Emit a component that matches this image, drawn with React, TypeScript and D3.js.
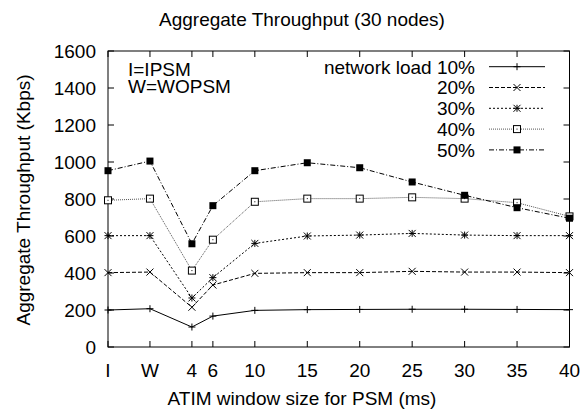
import React from 'react';
import * as d3 from 'd3';

// x positions: I and W are placed before the numeric window sizes
const xValues = [-4, 0, 4, 6, 10, 15, 20, 25, 30, 35, 40];
const xLabels = ['I', 'W', '4', '6', '10', '15', '20', '25', '30', '35', '40'];
const yTicks = [0, 200, 400, 600, 800, 1000, 1200, 1400, 1600];

const load10 = [200, 207, 108, 167, 198, 202, 203, 204, 204, 203, 202];
const load20 = [402, 405, 215, 335, 398, 402, 402, 409, 405, 405, 402];
const load30 = [602, 602, 265, 375, 560, 600, 605, 614, 605, 602, 602];
const load40 = [793, 802, 413, 580, 785, 802, 802, 809, 802, 780, 706];
const load50 = [953, 1005, 558, 764, 953, 996, 969, 892, 820, 753, 696];

const seriesNames = ['network load 10%', '20%', '30%', '40%', '50%'];

const W = 585;
const H = 415;
const font = '"Liberation Sans", Arial, sans-serif';
const fs = 19;

const series = [
  { name: seriesNames[0], values: load10, dash: null, color: '#000', marker: 'plus' },
  { name: seriesNames[1], values: load20, dash: '4,2', color: '#000', marker: 'cross' },
  { name: seriesNames[2], values: load30, dash: '2,2', color: '#000', marker: 'star' },
  { name: seriesNames[3], values: load40, dash: '1,1', color: '#555', marker: 'box' },
  { name: seriesNames[4], values: load50, dash: '5,2,1,2', color: '#000', marker: 'fbox' },
];

const Marker = ({ type, x, y }: { type: string; x: number; y: number }) => {
  const s = 3.5;
  if (type === 'plus') {
    return <path d={`M${x - s},${y}H${x + s}M${x},${y - s}V${y + s}`} stroke="#000" strokeWidth={1} />;
  }
  if (type === 'cross') {
    return <path d={`M${x - s},${y - s}L${x + s},${y + s}M${x - s},${y + s}L${x + s},${y - s}`} stroke="#000" strokeWidth={1} />;
  }
  if (type === 'star') {
    return (
      <path
        d={`M${x - s},${y - s}L${x + s},${y + s}M${x - s},${y + s}L${x + s},${y - s}M${x - s},${y}H${x + s}M${x},${y - s}V${y + s}`}
        stroke="#000"
        strokeWidth={1}
      />
    );
  }
  if (type === 'box') {
    return (
      <g>
        <rect x={x - s} y={y - s} width={2 * s} height={2 * s} fill="#fff" stroke="#000" strokeWidth={1} />
        <rect x={x - 0.5} y={y - 0.5} width={1} height={1} fill="#000" />
      </g>
    );
  }
  return <rect x={x - s} y={y - s} width={2 * s} height={2 * s} fill="#000" />;
};

export default function App() {
  const left = 108;
  const right = 569.5;
  const top = 51;
  const bottom = 347;

  const x = d3.scaleLinear().domain([-4, 40]).range([left, right]);
  const y = d3.scaleLinear().domain([0, 1600]).range([bottom, top]);

  const line = d3
    .line<number>()
    .x((_, i) => x(xValues[i]))
    .y((d) => y(d));

  const tick = 6;

  return (
    <svg width={W} height={H} style={{ position: 'absolute', left: 0, top: 0, background: '#fff' }} fontFamily={font}>
      <text x={302} y={26} fontSize={fs} textAnchor="middle">
        Aggregate Throughput (30 nodes)
      </text>

      {/* y ticks */}
      {yTicks.map((t) => (
        <g key={'y' + t}>
          <line x1={left} x2={left + tick} y1={y(t)} y2={y(t)} stroke="#000" />
          <line x1={right} x2={right - tick} y1={y(t)} y2={y(t)} stroke="#000" />
          <text x={96} y={y(t) + 6.8} fontSize={fs} textAnchor="end">
            {t}
          </text>
        </g>
      ))}

      {/* x ticks */}
      {xValues.map((v, i) => (
        <g key={'x' + v}>
          <line x1={x(v)} x2={x(v)} y1={bottom} y2={bottom - tick} stroke="#000" />
          <line x1={x(v)} x2={x(v)} y1={top} y2={top + tick} stroke="#000" />
          <text x={x(v)} y={377} fontSize={fs} textAnchor="middle">
            {xLabels[i]}
          </text>
        </g>
      ))}

      <rect x={left} y={top} width={right - left} height={bottom - top} fill="none" stroke="#000" strokeWidth={1} />

      <text x={302} y={405} fontSize={fs} textAnchor="middle">
        ATIM window size for PSM (ms)
      </text>
      <text transform="translate(29.5,200) rotate(-90)" fontSize={fs} textAnchor="middle">
        Aggregate Throughput (Kbps)
      </text>

      <text x={128} y={75.5} fontSize={fs}>I=IPSM</text>
      <text x={128} y={92.5} fontSize={fs}>W=WOPSM</text>

      {/* series */}
      {series.map((s) => (
        <g key={s.name}>
          <path d={line(s.values) || ''} fill="none" stroke={s.color} strokeWidth={1} strokeDasharray={s.dash || undefined} />
          {s.values.map((v, i) => (
            <Marker key={i} type={s.marker} x={x(xValues[i])} y={y(v)} />
          ))}
        </g>
      ))}

      {/* legend */}
      {series.map((s, i) => {
        const ly = 66.7 + i * 20.8;
        return (
          <g key={'lg' + s.name}>
            <text x={475} y={ly + 6.8} fontSize={fs} textAnchor="end">
              {s.name}
            </text>
            <line x1={489} x2={545} y1={ly} y2={ly} stroke={s.color} strokeDasharray={s.dash || undefined} />
            <Marker type={s.marker} x={517} y={ly} />
          </g>
        );
      })}
    </svg>
  );
}
